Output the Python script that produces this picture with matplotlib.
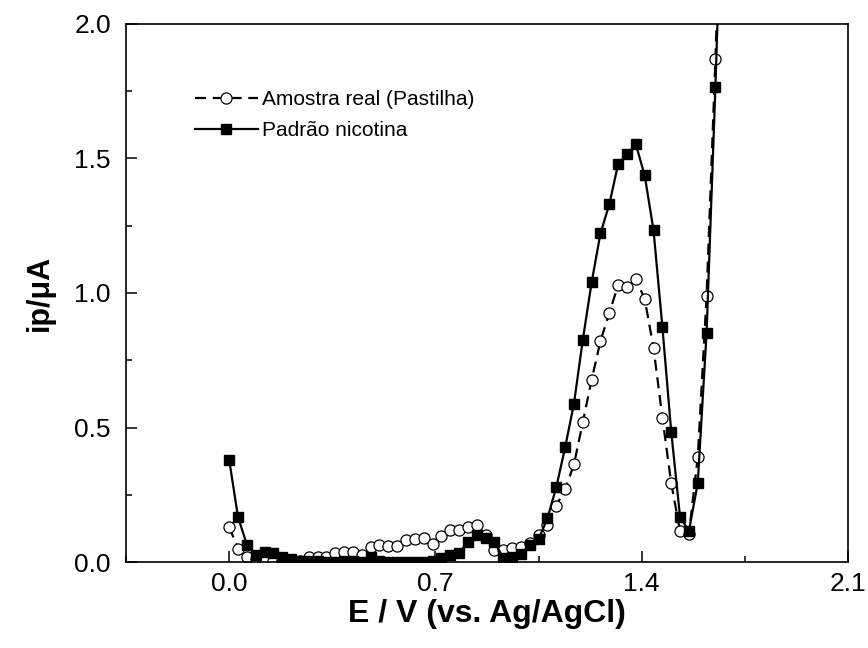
import matplotlib
matplotlib.use("Agg")
import matplotlib.pyplot as plt
from matplotlib.ticker import MultipleLocator, FormatStrFormatter

plt.rcParams['font.family'] = ['Liberation Sans', 'DejaVu Sans']

# potential (V vs Ag/AgCl), 30 mV steps
potential = [0.00, 0.03, 0.06, 0.09, 0.12, 0.15, 0.18, 0.21, 0.24, 0.27,
             0.30, 0.33, 0.36, 0.39, 0.42, 0.45, 0.48, 0.51, 0.54, 0.57,
             0.60, 0.63, 0.66, 0.69, 0.72, 0.75, 0.78, 0.81, 0.84, 0.87,
             0.90, 0.93, 0.96, 0.99, 1.02, 1.05, 1.08, 1.11, 1.14, 1.17,
             1.20, 1.23, 1.26, 1.29, 1.32, 1.35, 1.38, 1.41, 1.44, 1.47,
             1.50, 1.53, 1.56, 1.59, 1.62, 1.65, 1.68]

# real sample (lozenge)
amostra = [0.13, 0.05, 0.02, 0.01, 0.005, 0.005, 0.005, 0.0, 0.005, 0.02,
           0.018, 0.02, 0.033, 0.037, 0.037, 0.026, 0.056, 0.063, 0.059, 0.059,
           0.081, 0.085, 0.089, 0.067, 0.096, 0.119, 0.119, 0.13, 0.137, 0.10,
           0.045, 0.044, 0.052, 0.056, 0.07, 0.10, 0.137, 0.21, 0.27, 0.363,
           0.52, 0.678, 0.822, 0.926, 1.03, 1.022, 1.052, 0.978, 0.796, 0.537,
           0.293, 0.115, 0.105, 0.389, 0.989, 1.87, 2.9]

# nicotine standard
padrao = [0.38, 0.167, 0.065, 0.025, 0.037, 0.033, 0.02, 0.01, 0.005, 0.005,
          0.005, 0.0, 0.0, 0.005, 0.005, 0.0, 0.02, 0.005, 0.0, 0.0,
          0.0, 0.0, 0.0, 0.005, 0.015, 0.026, 0.033, 0.074, 0.10, 0.09,
          0.075, 0.015, 0.02, 0.03, 0.063, 0.085, 0.163, 0.278, 0.426, 0.589,
          0.826, 1.04, 1.222, 1.33, 1.48, 1.515, 1.552, 1.437, 1.233, 0.874,
          0.485, 0.167, 0.115, 0.293, 0.852, 1.767, 2.8]

fig = plt.figure(figsize=(8.68, 6.48), dpi=100)
ax = fig.add_axes([0.1452, 0.1327, 0.977 - 0.1452, 0.963 - 0.1327])

ax.plot(potential, amostra, color='black', lw=1.6, dashes=(5, 3),
        marker='o', ms=8, mfc='white', mec='black', mew=0.9,
        label='Amostra real (Pastilha)')
ax.plot(potential, padrao, color='black', lw=1.6, ls='-',
        marker='s', ms=6.5, mfc='black', mec='black',
        label='Padrão nicotina')

ax.set_xlim(-0.35, 2.1)
ax.set_ylim(0, 2.0)
ax.xaxis.set_major_locator(MultipleLocator(0.7))
ax.xaxis.set_minor_locator(MultipleLocator(0.35))
ax.yaxis.set_major_locator(MultipleLocator(0.5))
ax.yaxis.set_minor_locator(MultipleLocator(0.25))
ax.xaxis.set_major_formatter(FormatStrFormatter('%.1f'))
ax.yaxis.set_major_formatter(FormatStrFormatter('%.1f'))
ax.tick_params(which='both', direction='in', top=False, right=False,
               labelsize=19, width=1.1)
ax.tick_params(axis='x', pad=7)
ax.tick_params(axis='y', pad=11)
ax.tick_params(which='major', length=8)
ax.tick_params(which='minor', length=4.5)
for s in ax.spines.values():
    s.set_linewidth(1.2)

ax.set_xlabel('E / V (vs. Ag/AgCl)', fontsize=23, fontweight='bold', labelpad=2)
ax.set_ylabel('ip/μA', fontsize=22, fontweight='bold', labelpad=14)

ax.legend(loc='upper left', bbox_to_anchor=(0.084, 0.892), frameon=False,
          fontsize=15, handlelength=3.0, handletextpad=0.2,
          labelspacing=0.55, borderaxespad=0)

fig.savefig('out.png', dpi=100)
